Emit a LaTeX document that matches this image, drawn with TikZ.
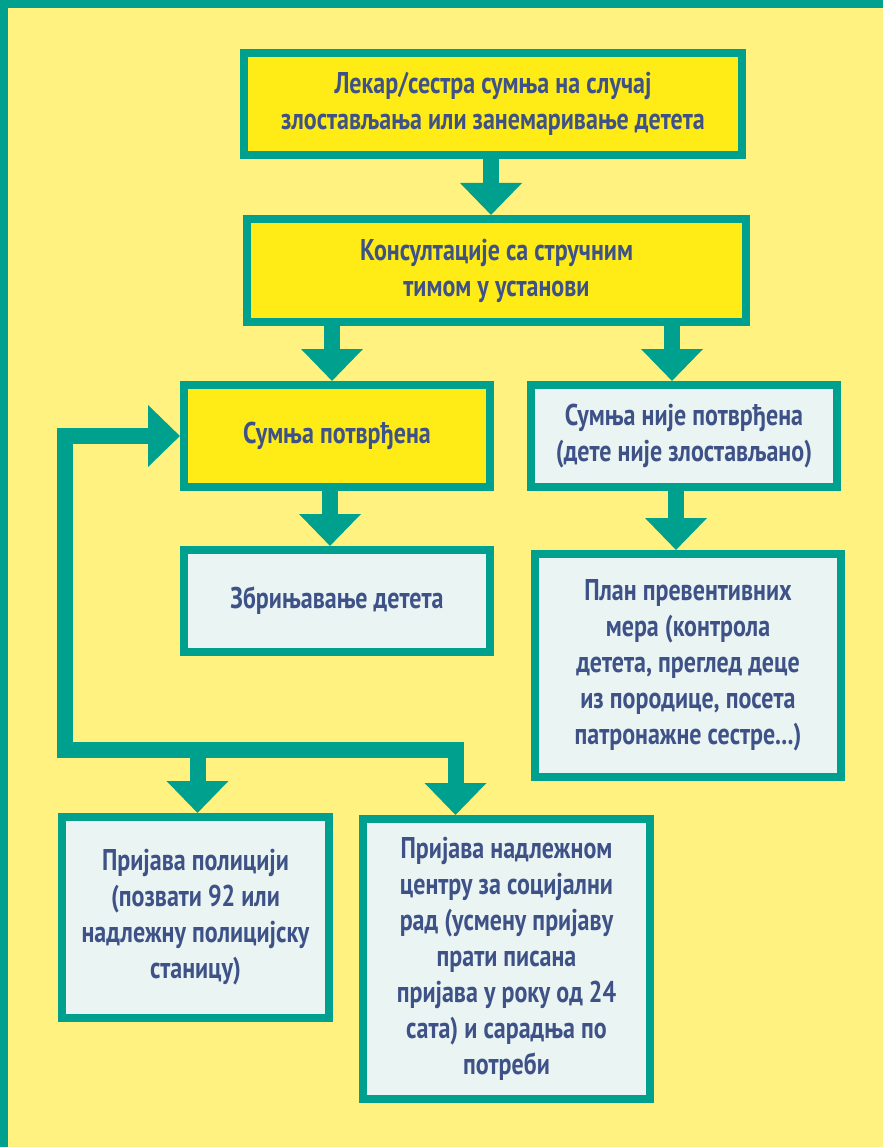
\documentclass[tikz,border=0pt]{standalone}
\usepackage{fontspec}
\setmainfont{PT Sans}[FakeStretch=0.8]
\usetikzlibrary{arrows.meta}

\definecolor{frameteal}{RGB}{0,160,142}
\definecolor{bgyellow}{RGB}{255,242,128}
\definecolor{boxyellow}{RGB}{255,236,22}
\definecolor{boxpale}{RGB}{234,245,243}
\definecolor{txtblue}{RGB}{62,82,136}

\tikzset{
  stepnode/.style={draw=frameteal, line width=8pt, inner sep=0pt, align=center,
    text=txtblue, font=\fontsize{30}{36}\selectfont\bfseries},
  hot/.style={stepnode, fill=boxyellow},
  cool/.style={stepnode, fill=boxpale},
  flow/.style={draw=frameteal, line width=16pt,
    -{Triangle[length=32pt 0 0, width=60pt 0]}},
  flowboth/.style={draw=frameteal, line width=16pt,
    {Triangle[length=32pt 0 0, width=60pt 0]}-{Triangle[length=32pt 0 0, width=60pt 0]}}
}

\begin{document}
\begin{tikzpicture}[x=1pt, y=-1pt]

	% background and frame
	\fill[bgyellow] (0,0) rectangle (883,1147);
	\fill[frameteal] (0,0) rectangle (8,1147);
	\fill[frameteal] (0,0) rectangle (883,8);

	\node[hot, minimum width=498pt, minimum height=102pt] (suspect) at (493,104)
		{Лекар/сестра сумња на случај\\злостављања или занемаривање детета};

	\node[hot, minimum width=499pt, minimum height=103pt] (consult) at (496.5,270.5)
		{Консултације са стручним\\тимом у установи};

	\node[hot, minimum width=306pt, minimum height=102pt] (confirmed) at (337,436)
		{Сумња потврђена};

	\node[cool, minimum width=306pt, minimum height=102pt] (notconf) at (684,436)
		{Сумња није потврђена\\(дете није злостављано)};

	\node[cool, minimum width=306pt, minimum height=102pt] (care) at (337,601)
		{Збрињавање детета};

	\node[cool, minimum width=306pt, minimum height=223pt] (plan) at (688,665.5)
		{План превентивних\\мера (контрола\\детета, преглед деце\\из породице, посета\\патронажне сестре...)};

	\node[cool, minimum width=267pt, minimum height=201pt] (police) at (195.5,917.5)
		{Пријава полицији\\(позвати 92 или\\надлежну полицијску\\станицу)};

	\node[cool, minimum width=287pt, minimum height=280pt] (social) at (506.5,959)
		{Пријава надлежном\\центру за социјални\\рад (усмену пријаву\\прати писана\\пријава у року од 24\\сата) и сарадња по\\потреби};

	% arrows
	\draw[flow] ([xshift=-2pt]suspect.south) -- ([xshift=-2pt]suspect.south |- consult.north);
	\draw[flow] ([xshift=-5pt]confirmed.north |- consult.south) -- ([xshift=-5pt]confirmed.north);
	\draw[flow] ([xshift=-12pt]notconf.north |- consult.south) -- ([xshift=-12pt]notconf.north);
	\draw[flow] ([xshift=-7pt]confirmed.south) -- ([xshift=-7pt]care.north);
	\draw[flow] ([xshift=-8pt]notconf.south) -- ([xshift=-8pt]notconf.south |- plan.north);

	% loop back to confirmed
	\coordinate (hub) at (65,749.5);
	\coordinate (rturn) at (455.5,749.5);
	\draw[flowboth] (rturn |- social.north) -- (rturn) -- (hub) -- (hub |- confirmed.west) -- (confirmed.west);
	\draw[flow] ([xshift=2pt]hub -| police.north) -- ([xshift=2pt]police.north);

\end{tikzpicture}
\end{document}
